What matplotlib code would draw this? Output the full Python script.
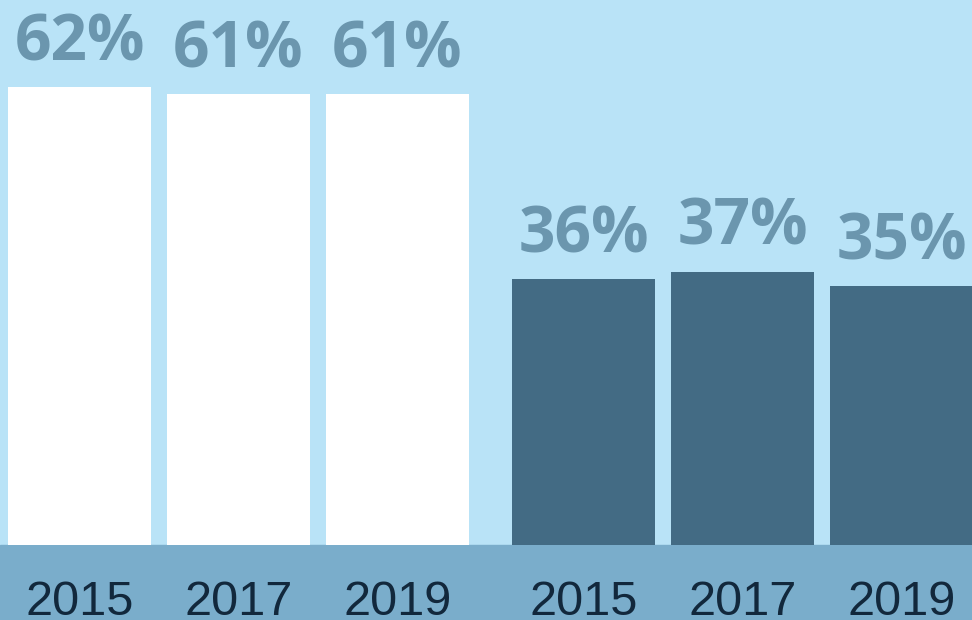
import matplotlib.pyplot as plt

# 数据
years = ["2015", "2017", "2019", "2015", "2017", "2019"]
group_a = [62, 61, 61]
group_b = [36, 37, 35]

bg_color = "#b9e3f7"
band_color = "#7aadcb"
bar_dark = "#436b84"
label_color = "#6b96ae"
year_color = "#12283c"

fig = plt.figure(figsize=(9.72, 6.2), dpi=100)
fig.patch.set_facecolor(bg_color)
ax = fig.add_axes([0, 0, 1, 1])
ax.set_facecolor(bg_color)

gap = 0.17
pos_a = [0, 1, 2]
pos_b = [3 + gap, 4 + gap, 5 + gap]
width = 0.9

ax.bar(pos_a, group_a, width=width, color="white", zorder=2)
ax.bar(pos_b, group_b, width=width, color=bar_dark, zorder=2)

ymin, ymax = -10.15, 73.78
ax.set_xlim(-0.5, 5.613)
ax.set_ylim(ymin, ymax)
ax.axhspan(ymin, 0, color=band_color, zorder=1)

for x, v in zip(pos_a + pos_b, group_a + group_b):
    ax.text(x, v + 3.65, f"{v}%", ha="center", va="baseline",
            fontsize=46, fontweight="bold", color=label_color,
            family=["Open Sans", "DejaVu Sans"], zorder=3)

for x, y in zip(pos_a + pos_b, years):
    ax.text(x, -9.45, y, ha="center", va="baseline", fontsize=35,
            color=year_color, family=["Liberation Sans", "DejaVu Sans"], zorder=3)

ax.axis("off")
fig.savefig("out.png", dpi=100, facecolor=bg_color)
